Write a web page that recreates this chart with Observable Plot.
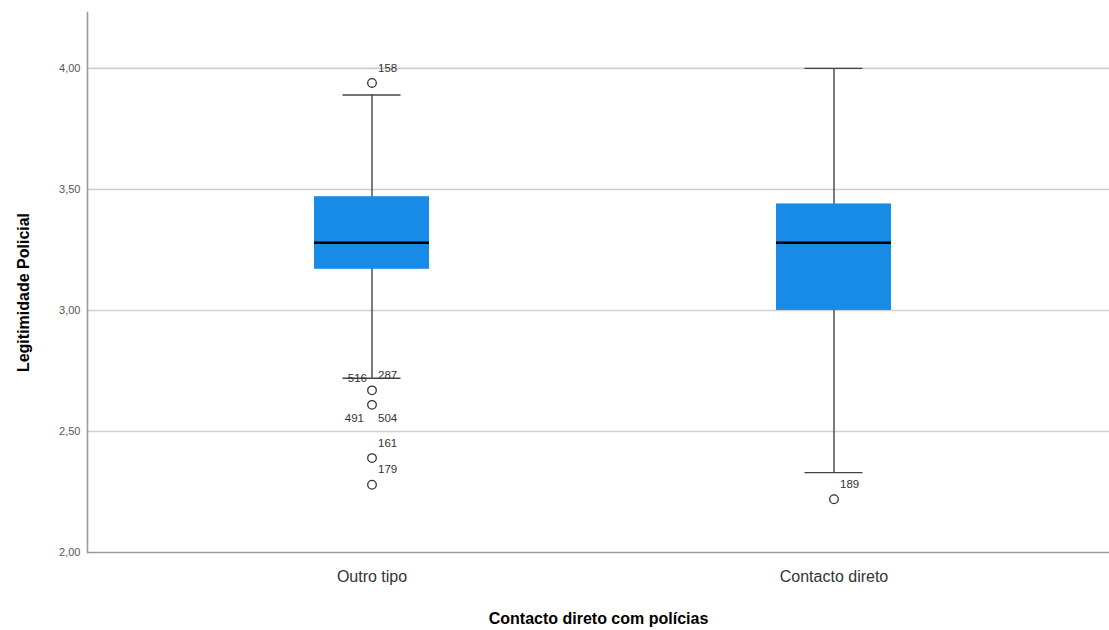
<!DOCTYPE html>
<html>
<head>
<meta charset="utf-8">
<script src="https://cdn.jsdelivr.net/npm/d3@7"></script>
<script src="https://cdn.jsdelivr.net/npm/@observablehq/plot@0.6"></script>
<style>
  html, body { margin: 0; padding: 0; background: #fff; }
  #chart svg { display: block; font-family: "Liberation Sans", Arial, sans-serif; }
</style>
</head>
<body>
<div id="chart"></div>
<script>
// ---- data ----
const groups = ["Outro tipo", "Contacto direto"];
const q1 = [3.17, 3.00];
const median = [3.28, 3.28];
const q3 = [3.47, 3.44];
const whiskerLow = [2.72, 2.33];
const whiskerHigh = [3.89, 4.00];

const outlierGroup = ["Outro tipo", "Outro tipo", "Outro tipo", "Outro tipo", "Outro tipo", "Contacto direto"];
const outlierValue = [3.94, 2.67, 2.61, 2.39, 2.28, 2.22];

const labelGroup = ["Outro tipo", "Outro tipo", "Outro tipo", "Outro tipo", "Outro tipo", "Outro tipo", "Outro tipo", "Contacto direto"];
const labelValue = [3.94, 2.67, 2.67, 2.61, 2.61, 2.39, 2.28, 2.22];
const labelId = ["158", "287", "516", "491", "504", "161", "179", "189"];
const labelSide = ["ne", "ne", "nw", "sw", "se", "ne", "ne", "ne"];

const yTicks = [2.0, 2.5, 3.0, 3.5, 4.0];
const xTitle = "Contacto direto com polícias";
const yTitle = "Legitimidade Policial";

// ---- tables built from the arrays ----
const boxes = groups.map((g, i) => ({group: g, q1: q1[i], median: median[i], q3: q3[i], lo: whiskerLow[i], hi: whiskerHigh[i]}));
const outliers = outlierGroup.map((g, i) => ({group: g, value: outlierValue[i]}));
const labels = labelGroup.map((g, i) => ({group: g, value: labelValue[i], id: labelId[i], side: labelSide[i]}));
const side = s => labels.filter(d => d.side === s);

const fmt = d => d.toFixed(2).replace(".", ",");
const labelStyle = {x: "group", y: "value", text: "id", fontSize: 11.5, fill: "#333"};

const chart = Plot.plot({
  width: 1109,
  height: 630,
  marginTop: 12,
  marginLeft: 87,
  marginRight: 0,
  marginBottom: 78,
  x: {domain: groups, paddingInner: 0.7515, paddingOuter: 0.48, align: 0.51},
  y: {domain: [2, 4.231]},
  marks: [
    Plot.ruleY(yTicks.filter(d => d > 2), {stroke: "#cfcfcf", strokeWidth: 1.6}),
    Plot.ruleY([2], {stroke: "#9a9a9a", strokeWidth: 1.6}),
    Plot.frame({anchor: "left", stroke: "#9a9a9a", strokeWidth: 1.6}),
    Plot.axisY({ticks: yTicks, tickSize: 0, tickPadding: 7, tickFormat: fmt, fontSize: 11, color: "#555", label: null}),
    Plot.axisX({tickSize: 0, tickPadding: 18, fontSize: 16, color: "#333", label: null}),
    Plot.text([xTitle], {frameAnchor: "bottom", dy: 71, fontSize: 16, fontWeight: "bold", fill: "#000"}),
    Plot.text([yTitle], {frameAnchor: "left", textAnchor: "middle", dx: -64, dy: 10, rotate: -90, fontSize: 16, fontWeight: "bold", fill: "#000"}),
    Plot.ruleX(boxes, {x: "group", y1: "lo", y2: "hi", stroke: "#444", strokeWidth: 1.4}),
    Plot.tickY(boxes, {x: "group", y: "lo", stroke: "#444", strokeWidth: 1.4, insetLeft: 28.5, insetRight: 28.5}),
    Plot.tickY(boxes, {x: "group", y: "hi", stroke: "#444", strokeWidth: 1.4, insetLeft: 28.5, insetRight: 28.5}),
    Plot.barY(boxes, {x: "group", y1: "q1", y2: "q3", fill: "#178be5"}),
    Plot.tickY(boxes, {x: "group", y: "median", stroke: "#000", strokeWidth: 2.4}),
    Plot.dot(outliers, {x: "group", y: "value", r: 4.3, stroke: "#333", fill: "#fff", strokeWidth: 1.3}),
    Plot.text(side("ne"), {...labelStyle, textAnchor: "start", dx: 6, dy: -15}),
    Plot.text(side("nw"), {...labelStyle, textAnchor: "end", dx: -5, dy: -12}),
    Plot.text(side("se"), {...labelStyle, textAnchor: "start", dx: 6, dy: 13}),
    Plot.text(side("sw"), {...labelStyle, textAnchor: "end", dx: -8, dy: 13})
  ]
});
document.getElementById("chart").appendChild(chart);
</script>
</body>
</html>
